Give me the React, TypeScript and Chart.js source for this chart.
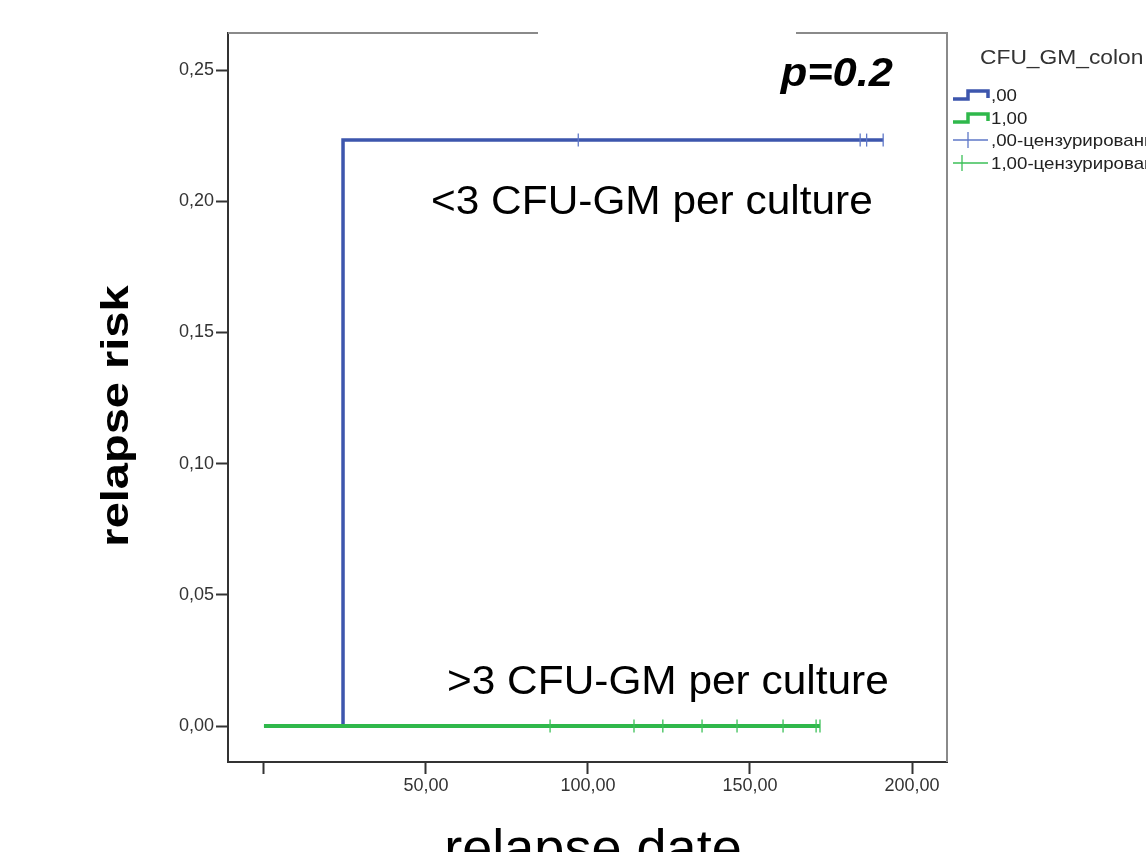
import React, { useEffect, useRef } from "react";
import { Chart, registerables } from "chart.js";

Chart.register(...registerables);

// ---- data ----
const xTickValues = [0, 50, 100, 150, 200];
const yTickValues = [0, 0.05, 0.1, 0.15, 0.2, 0.25];

// group ",00"  (<3 CFU-GM per culture)
const group0Times = [0, 24.4, 191.1];
const group0Risk = [0, 0.2233, 0.2233];
const group0Censored = [97.0, 184.0, 186.0, 191.1];

// group "1,00" (>3 CFU-GM per culture)
const group1Times = [0, 171.6];
const group1Risk = [0, 0];
const group1Censored = [88.3, 114.2, 123.1, 135.2, 146.0, 160.2, 170.4, 171.6];

const legendTitle = "CFU_GM_colon";
const legendLabels = [",00", "1,00", ",00-цензурированные", "1,00-цензурированные"];
const annotationP = "p=0.2";
const annotationLow = "<3 CFU-GM per culture";
const annotationHigh = ">3 CFU-GM per culture";
const xTitle = "relapse date";
const yTitle = "relapse risk";

const BLUE = "#3d56ad";
const GREEN = "#2fb84b";
const BLUE_LIGHT = "#5f78c8";
const GREEN_LIGHT = "#3cc058";
const FONT = "'Liberation Sans', Arial, Helvetica, sans-serif";

const fmt = (v: number, digits: number) => v.toFixed(digits).replace(".", ",");

const decorPlugin = {
  id: "decor",
  afterDraw(chart: any) {
    const ctx = chart.ctx as CanvasRenderingContext2D;
    const a = chart.chartArea;
    ctx.save();

    // top & right frame lines (gray)
    ctx.strokeStyle = "#8a8a8a";
    ctx.lineWidth = 2;
    ctx.beginPath();
    ctx.moveTo(a.left, a.top);
    ctx.lineTo(538, a.top);
    ctx.moveTo(796, a.top);
    ctx.lineTo(a.right, a.top);
    ctx.lineTo(a.right, a.bottom);
    ctx.stroke();

    const stretchedText = (text: string, x: number, y: number, sx: number, align: CanvasTextAlign) => {
      ctx.save();
      ctx.translate(x, y);
      ctx.scale(sx, 1);
      ctx.textAlign = align;
      ctx.fillText(text, 0, 0);
      ctx.restore();
    };

    // annotations
    ctx.fillStyle = "#000";
    ctx.textBaseline = "alphabetic";
    ctx.font = `italic bold 41px ${FONT}`;
    stretchedText(annotationP, 893, 86, 1.06, "right");
    ctx.font = `40px ${FONT}`;
    stretchedText(annotationLow, 431, 214, 1.06, "left");
    stretchedText(annotationHigh, 447, 694, 1.06, "left");

    // axis titles
    ctx.font = `51px ${FONT}`;
    stretchedText(xTitle, 593, 866, 1.06, "center");
    ctx.save();
    ctx.translate(128, 416);
    ctx.rotate(-Math.PI / 2);
    ctx.scale(1, 0.82);
    ctx.font = `bold 47px ${FONT}`;
    ctx.textAlign = "center";
    ctx.fillText(yTitle, 0, 0);
    ctx.restore();

    // legend
    ctx.fillStyle = "#333";
    ctx.font = `20px ${FONT}`;
    stretchedText(legendTitle, 980, 64, 1.14, "left");

    const rows = [95, 118, 140, 163];
    const stepIcon = (y: number, color: string) => {
      ctx.strokeStyle = color;
      ctx.lineWidth = 3.5;
      ctx.lineJoin = "miter";
      ctx.beginPath();
      ctx.moveTo(953, y + 4);
      ctx.lineTo(968, y + 4);
      ctx.lineTo(968, y - 4);
      ctx.lineTo(988, y - 4);
      ctx.lineTo(988, y + 3);
      ctx.stroke();
    };
    const plusIcon = (y: number, cx: number, color: string) => {
      ctx.strokeStyle = color;
      ctx.lineWidth = 1.3;
      ctx.beginPath();
      ctx.moveTo(953, y);
      ctx.lineTo(988, y);
      ctx.moveTo(cx, y - 8);
      ctx.lineTo(cx, y + 8);
      ctx.stroke();
    };
    stepIcon(rows[0], BLUE);
    stepIcon(rows[1], GREEN);
    plusIcon(rows[2], 968, BLUE_LIGHT);
    plusIcon(rows[3], 962, GREEN_LIGHT);
    ctx.fillStyle = "#222";
    ctx.font = `17px ${FONT}`;
    for (let i = 0; i < 4; i++) {
      stretchedText(legendLabels[i], 991, rows[i] + 6, 1.1, "left");
    }

    ctx.restore();
  },
};

export default function App() {
  const canvasRef = useRef<HTMLCanvasElement | null>(null);

  useEffect(() => {
    if (!canvasRef.current) return;
    const chart = new Chart(canvasRef.current, {
      type: "scatter",
      data: {
        datasets: [
          {
            label: legendLabels[2],
            data: group0Censored.map((t) => ({ x: t, y: group0Risk[group0Risk.length - 1] })),
            showLine: false,
            pointStyle: "line",
            rotation: 90,
            pointRadius: 6.5,
            borderWidth: 1.3,
            borderColor: BLUE_LIGHT,
            backgroundColor: BLUE_LIGHT,
            order: 0,
          },
          {
            label: legendLabels[3],
            data: group1Censored.map((t) => ({ x: t, y: 0 })),
            showLine: false,
            pointStyle: "line",
            rotation: 90,
            pointRadius: 6.5,
            borderWidth: 1.3,
            borderColor: GREEN_LIGHT,
            backgroundColor: GREEN_LIGHT,
            order: 0,
          },
          {
            label: legendLabels[1],
            data: group1Times.map((t, i) => ({ x: t, y: group1Risk[i] })),
            showLine: true,
            stepped: "before",
            borderColor: GREEN,
            backgroundColor: GREEN,
            borderWidth: 4,
            pointRadius: 0,
            order: 1,
          },
          {
            label: legendLabels[0],
            data: group0Times.map((t, i) => ({ x: t, y: group0Risk[i] })),
            showLine: true,
            stepped: "before",
            borderColor: BLUE,
            backgroundColor: BLUE,
            borderWidth: 3.5,
            pointRadius: 0,
            order: 2,
          },
        ],
      },
      options: {
        responsive: false,
        animation: false,
        events: [],
        layout: { padding: { left: 0, top: 33, right: 199, bottom: 50 } },
        plugins: {
          legend: { display: false },
          tooltip: { enabled: false },
          title: { display: false },
        },
        scales: {
          x: {
            type: "linear",
            min: -11.1,
            max: 210.8,
            afterBuildTicks: (scale: any) => {
              scale.ticks = xTickValues.map((v) => ({ value: v }));
            },
            afterFit: (scale: any) => {
              scale.height = 40;
            },
            ticks: {
              autoSkip: false,
              maxRotation: 0,
              minRotation: 0,
              padding: 1,
              color: "#333",
              font: { family: FONT, size: 18 },
              callback: (v: any) => (Number(v) === 0 ? "" : fmt(Number(v), 2)),
            },
            grid: {
              drawOnChartArea: false,
              drawTicks: true,
              tickLength: 12,
              tickWidth: 2,
              tickColor: "#333",
            },
            border: { display: true, color: "#333", width: 2 },
          },
          y: {
            type: "linear",
            min: -0.0137,
            max: 0.2641,
            afterBuildTicks: (scale: any) => {
              scale.ticks = yTickValues.map((v) => ({ value: v }));
            },
            afterFit: (scale: any) => {
              scale.width = 228;
            },
            ticks: {
              autoSkip: false,
              padding: 2,
              color: "#333",
              font: { family: FONT, size: 18 },
              callback: (v: any) => fmt(Number(v), 2),
            },
            grid: {
              drawOnChartArea: false,
              drawTicks: true,
              tickLength: 12,
              tickWidth: 2,
              tickColor: "#333",
            },
            border: { display: true, color: "#333", width: 2 },
          },
        },
      },
      plugins: [decorPlugin],
    } as any);
    return () => chart.destroy();
  }, []);

  return (
    <div style={{ position: "absolute", left: 0, top: 0, width: 1146, height: 852, background: "#fff", overflow: "hidden" }}>
      <canvas ref={canvasRef} width={1146} height={852} style={{ display: "block" }} />
    </div>
  );
}
